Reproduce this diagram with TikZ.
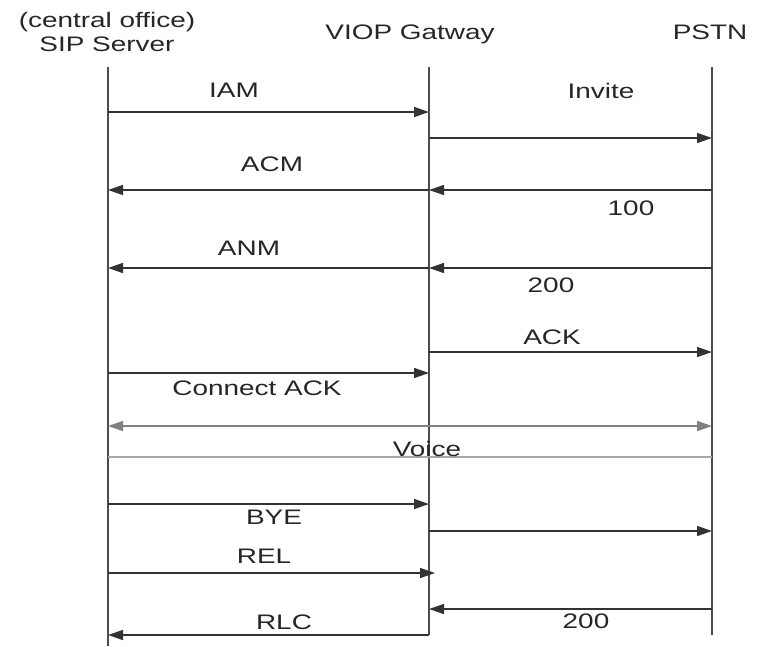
\documentclass[tikz,border=0pt]{standalone}
\usepackage{fontspec}
\setmainfont{Liberation Sans}
\usetikzlibrary{arrows.meta}
\newcommand\wtxt[1]{\scalebox{1.33}[1]{#1}}
\begin{document}
\begin{tikzpicture}[x=1pt,y=-1pt,
  lbl/.style={font=\fontsize{21}{24}\selectfont, text=black!85, inner sep=0pt, anchor=base},
  life/.style={line width=1.5pt, draw=black!70},
  msg/.style={line width=1.5pt, draw=black!80, -{Triangle[length=15pt,width=10pt]}},
  voicearrow/.style={line width=1.5pt, draw=black!50, {Triangle[length=15pt,width=10pt]}-{Triangle[length=15pt,width=10pt]}},
  voiceline/.style={line width=1.5pt, draw=black!35}]
\useasboundingbox (0,0) rectangle (762,646);
% headers
\node[lbl] (hA1) at (107,27) {\wtxt{(central office)}};
\node[lbl] (hA2) at (107,51) {\wtxt{SIP Server}};
\node[lbl] (hB) at (410,39) {\wtxt{VIOP Gatway}};
\node[lbl] (hC) at (710,39) {\wtxt{PSTN}};
% lifeline ends
\coordinate (A0) at (108,67); \coordinate (A1) at (108,646);
\coordinate (B0) at (429,67); \coordinate (B1) at (429,635);
\coordinate (C0) at (712,67); \coordinate (C1) at (712,635);
\draw[life] (A0) -- (A1);
\draw[life] (B0) -- (B1);
\draw[life] (C0) -- (C1);
% message points
\foreach \n/\y in {1/112,2/138,3/190,4/268,5/352,6/373,7/426,8/457,9/504,10/531,11/573,12/609,13/635}{
  \coordinate (a\n) at (108,\y);
  \coordinate (b\n) at (429,\y);
  \coordinate (c\n) at (712,\y);
}
\coordinate (b11x) at (435,573);
\draw[msg] (a1) -- (b1);
\draw[msg] (b2) -- (c2);
\draw[msg] (c3) -- (b3);
\draw[msg] (b3) -- (a3);
\draw[msg] (c4) -- (b4);
\draw[msg] (b4) -- (a4);
\draw[msg] (b5) -- (c5);
\draw[msg] (a6) -- (b6);
\draw[voicearrow] (a7) -- (c7);
\draw[voiceline] (a8) -- (c8);
\draw[msg] (a9) -- (b9);
\draw[msg] (b10) -- (c10);
\draw[msg] (a11) -- (b11x);
\draw[msg] (c12) -- (b12);
\draw[msg] (b13) -- (a13);
% labels
\node[lbl] (l1) at (234,97) {\wtxt{IAM}};
\node[lbl] (l2) at (601,98) {\wtxt{Invite}};
\node[lbl] (l3) at (272,171) {\wtxt{ACM}};
\node[lbl] (l4) at (631,215) {\wtxt{100}};
\node[lbl] (l5) at (249,255) {\wtxt{ANM}};
\node[lbl] (l6) at (551,292) {\wtxt{200}};
\node[lbl] (l7) at (552,344) {\wtxt{ACK}};
\node[lbl] (l8) at (257,395) {\wtxt{Connect ACK}};
\node[lbl] (l9) at (427,456) {\wtxt{Voice}};
\node[lbl] (l10) at (274,524) {\wtxt{BYE}};
\node[lbl] (l11) at (264,563) {\wtxt{REL}};
\node[lbl] (l12) at (586,628) {\wtxt{200}};
\node[lbl] (l13) at (284,629) {\wtxt{RLC}};
\end{tikzpicture}
\end{document}
